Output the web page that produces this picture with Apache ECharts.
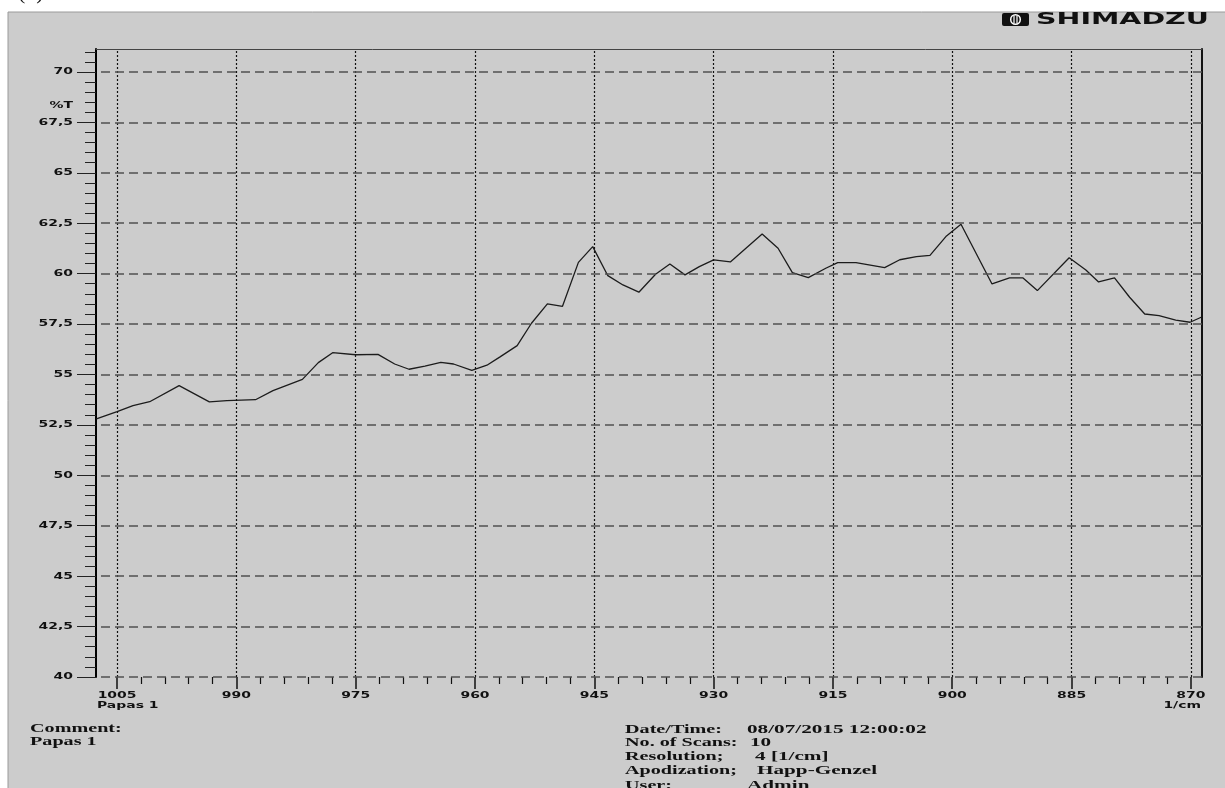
<!DOCTYPE html>
<html>
<head>
<meta charset="utf-8">
<script src="https://cdn.jsdelivr.net/npm/echarts@6/dist/echarts.min.js"></script>
<style>
  html, body { margin: 0; padding: 0; background: #ffffff; }
  #chart { width: 1225px; height: 788px; }
</style>
</head>
<body>
<div id="chart"></div>
<script>
// IR spectrum trace: wavenumber (1/cm) and transmittance (%T)
const wavenumbers = [1007.6, 1005.0, 1003.0, 1000.9, 997.2, 993.4, 991.2, 987.6, 985.4, 981.7,
  979.7, 977.9, 975.0, 972.2, 970.1, 968.3, 966.3, 964.3, 962.7, 960.4,
  958.5, 956.9, 954.7, 952.9, 950.9, 949.0, 947.0, 945.2, 943.3, 941.4,
  939.4, 937.3, 935.5, 933.6, 931.8, 930.0, 927.9, 923.9, 921.9, 920.1,
  918.1, 915.9, 914.4, 912.1, 908.5, 906.6, 904.5, 902.8, 900.8, 898.9,
  895.0, 892.8, 891.1, 889.3, 885.3, 883.2, 881.6, 879.6, 877.7, 875.8,
  874.0, 871.9, 870.1, 868.7];
const transmittance = [52.80, 53.16, 53.46, 53.65, 54.45, 53.64, 53.70, 53.75, 54.20, 54.76,
  55.59, 56.08, 55.98, 56.00, 55.52, 55.26, 55.42, 55.60, 55.52, 55.21,
  55.46, 55.86, 56.43, 57.54, 58.50, 58.38, 60.56, 61.34, 59.90, 59.44,
  59.08, 59.97, 60.48, 59.94, 60.35, 60.68, 60.58, 61.97, 61.26, 60.05,
  59.80, 60.27, 60.55, 60.55, 60.30, 60.69, 60.84, 60.91, 61.84, 62.45,
  59.49, 59.79, 59.79, 59.16, 60.79, 60.18, 59.59, 59.79, 58.83, 58.00,
  57.92, 57.70, 57.59, 57.84];

// Axis ranges and tick positions
const xRange = [868.6, 1007.65];
const yRange = [40, 71.14];
const xMajorTicks = [1005, 990, 975, 960, 945, 930, 915, 900, 885, 870];
const yMajorTicks = [40, 42.5, 45, 47.5, 50, 52.5, 55, 57.5, 60, 62.5, 65, 67.5, 70];

// minor ticks: every 3 1/cm on x, every 0.5 %T on y
const xMinorTicks = [];
for (let v = 870; v <= 1005; v += 3) if (v % 15 !== 0) xMinorTicks.push(v);
const yMinorTicks = [];
for (let v = 40.5; v <= 71.001; v += 0.5) {
  const r = Math.round(v * 10) / 10;
  if (Math.abs(r / 2.5 - Math.round(r / 2.5)) > 1e-6) yMinorTicks.push(r);
}

// Header / footer texts
const commentLines = ['Comment:', 'Papas 1'];
const infoLabels = ['Date/Time:', 'No. of Scans:', 'Resolution;', 'Apodization;', 'User:'];
const infoValues = ['08/07/2015 12:00:02', '10', '4 [1/cm]', 'Happ-Genzel', 'Admin'];

const chart = echarts.init(document.getElementById('chart'), null, { renderer: 'canvas' });

// The printout uses wide, horizontally stretched lettering
const WIDE = 1.55;
const WIDE_VALUES = 1.63;
const axisFont = { fontFamily: 'DejaVu Sans', fontWeight: 'bold', fontSize: 9, fill: '#111' };
const infoFont = { fontFamily: 'Liberation Serif', fontWeight: 'bold', fontSize: 13, fill: '#111' };

function txt(x, y, text, style, align, stretch) {
  return { type: 'text', x: x, y: y, scaleX: stretch || 1, silent: true,
    style: Object.assign({ text: text, x: 0, y: 0, verticalAlign: 'middle', align: align || 'left' }, style) };
}

const hiddenAxisBits = { axisLabel: { show: false }, splitLine: { show: false } };

chart.setOption({
  animation: false,
  backgroundColor: '#ffffff',
  grid: { left: 96, right: 23, top: 49, bottom: 111, containLabel: false, outerBoundsMode: 'none' },
  xAxis: [
    Object.assign({
      type: 'value', min: xRange[0], max: xRange[1], inverse: true, position: 'bottom',
      axisLine: { show: false },
      axisTick: { show: true, customValues: xMajorTicks, length: 12, lineStyle: { color: '#111', width: 1.5 } }
    }, hiddenAxisBits),
    Object.assign({
      type: 'value', min: xRange[0], max: xRange[1], inverse: true, position: 'bottom',
      axisLine: { show: false },
      axisTick: { show: true, customValues: xMinorTicks, length: 7, lineStyle: { color: '#111', width: 1.2 } }
    }, hiddenAxisBits),
    Object.assign({
      type: 'value', min: xRange[0], max: xRange[1], inverse: true, position: 'top',
      axisLine: { show: true, lineStyle: { color: '#444', width: 1 } },
      axisTick: { show: false }
    }, hiddenAxisBits)
  ],
  yAxis: [
    Object.assign({
      type: 'value', min: yRange[0], max: yRange[1], position: 'left',
      axisLine: { show: true, lineStyle: { color: '#000', width: 2 } },
      axisTick: { show: true, customValues: yMajorTicks, length: 19, lineStyle: { color: '#222', width: 1 } }
    }, hiddenAxisBits),
    Object.assign({
      type: 'value', min: yRange[0], max: yRange[1], position: 'left',
      axisLine: { show: false },
      axisTick: { show: true, customValues: yMinorTicks, length: 11, lineStyle: { color: '#222', width: 1 } }
    }, hiddenAxisBits),
    Object.assign({
      type: 'value', min: yRange[0], max: yRange[1], position: 'right',
      axisLine: { show: true, lineStyle: { color: '#111', width: 2 } },
      axisTick: { show: false }
    }, hiddenAxisBits)
  ],
  series: [
    {
      // grid lines: dotted verticals at the labelled wavenumbers, dashed horizontals every 2.5 %T
      type: 'line', data: [], z: 1, silent: true,
      markLine: {
        silent: true, symbol: ['none', 'none'], animation: false,
        label: { show: false },
        emphasis: { disabled: true },
        data: xMajorTicks.map(v => ({ xAxis: v, lineStyle: { color: '#111', type: [2, 2], width: 1.2 } }))
          .concat(yMajorTicks.map(v => ({ yAxis: v, lineStyle: { color: '#505050', type: [9, 5], width: 1.5 } })))
      }
    },
    {
      name: '%T', type: 'line', z: 3,
      data: wavenumbers.map((w, i) => [w, transmittance[i]]),
      symbol: 'none', smooth: false, clip: true,
      lineStyle: { color: '#1c1c1c', width: 1.3 }
    }
  ]
});

// Tick labels in the stretched printout lettering, placed through the axis scales
const px = v => chart.convertToPixel({ xAxisIndex: 0 }, v);
const py = v => chart.convertToPixel({ yAxisIndex: 0 }, v);
const plotBottom = py(yRange[0]);
const plotLeft = px(xRange[1]);
const plotRight = px(xRange[0]);

const graphics = [
  { type: 'rect', z: -10, silent: true, shape: { x: 8, y: 12, width: 1220, height: 790 },
    style: { fill: '#cccccc', stroke: '#9a9a9a', lineWidth: 1 } },
  txt(18, -7, '(b)', { fontFamily: 'Liberation Serif', fontSize: 22, fill: '#111' }),
  // instrument logo
  { type: 'rect', silent: true, shape: { x: 1002, y: 13, width: 27, height: 13, r: 2 }, style: { fill: '#111' } },
  { type: 'circle', silent: true, shape: { cx: 1015.5, cy: 19.5, r: 4.8 }, style: { fill: 'none', stroke: '#fff', lineWidth: 1.5 } },
  { type: 'line', silent: true, shape: { x1: 1014, y1: 15.5, x2: 1014, y2: 23.5 }, style: { stroke: '#fff', lineWidth: 1.2 } },
  { type: 'line', silent: true, shape: { x1: 1017, y1: 15.5, x2: 1017, y2: 23.5 }, style: { stroke: '#fff', lineWidth: 1.2 } },
  txt(1036, 20, 'SHIMADZU', { fontFamily: 'DejaVu Sans', fontWeight: 'bold', fontSize: 15, fill: '#111' }, 'left', 1.9),
  // axis captions
  txt(plotLeft - 23, py(68.35), '%T', axisFont, 'right', WIDE),
  txt(plotLeft + 1, plotBottom + 29, 'Papas 1', axisFont, 'left', WIDE),
  txt(plotRight - 1, plotBottom + 29, '1/cm', axisFont, 'right', WIDE)
];

xMajorTicks.forEach(v => graphics.push(txt(px(v), plotBottom + 19, String(v), axisFont, 'center', WIDE)));
yMajorTicks.forEach(v => graphics.push(txt(plotLeft - 23, py(v), String(v).replace('.', ','), axisFont, 'right', WIDE)));

// measurement info block
const commentY = [729, 742];
commentLines.forEach((t, i) => graphics.push(txt(30, commentY[i], t, infoFont, 'left', WIDE)));
const infoY = [730, 743, 757, 771, 786];
const valueX = [747, 750, 755, 757, 747];
infoLabels.forEach((t, i) => graphics.push(txt(625, infoY[i], t, infoFont, 'left', WIDE)));
infoValues.forEach((t, i) => graphics.push(txt(valueX[i], infoY[i], t, infoFont, 'left', WIDE_VALUES)));

chart.setOption({ graphic: graphics });
</script>
</body>
</html>
